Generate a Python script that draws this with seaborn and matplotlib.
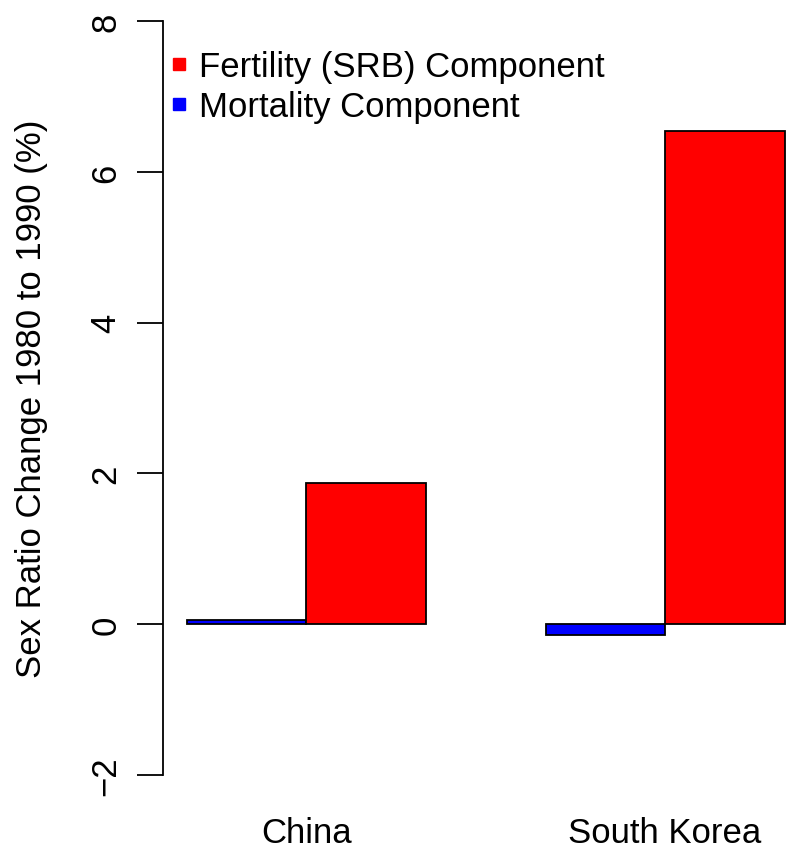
import matplotlib
matplotlib.use("Agg")
import matplotlib.pyplot as plt
import seaborn as sns
import pandas as pd
from matplotlib.lines import Line2D

countries = ["China", "South Korea"]
components = ["Mortality Component", "Fertility (SRB) Component"]
mortality = [0.06, -0.15]
fertility = [1.87, 6.54]
colors = {"Mortality Component": "#0000FF", "Fertility (SRB) Component": "#FF0000"}
yticks = [-2, 0, 2, 4, 6, 8]
ylabel = "Sex Ratio Change 1980 to 1990 (%)"

df = pd.DataFrame({
    "country": countries * 2,
    "component": [components[0]] * 2 + [components[1]] * 2,
    "value": mortality + fertility,
})

sns.set_style("white")
plt.rcParams["font.family"] = ["Liberation Sans", "DejaVu Sans"]
plt.rcParams["text.color"] = "black"
plt.rcParams["axes.labelcolor"] = "black"
plt.rcParams["xtick.color"] = "black"
plt.rcParams["ytick.color"] = "black"

FS = 25

fig = plt.figure(figsize=(7.9, 8.54), dpi=100)
ax = fig.add_axes([163 / 790, 48 / 854, (808.5 - 163) / 790, 814 / 854])

sns.barplot(data=df, x="country", y="value", hue="component", hue_order=components,
            order=countries, palette=colors, width=2 / 3, gap=0, dodge=True,
            edgecolor="black", linewidth=1.3, saturation=1, legend=False, ax=ax, errorbar=None)

ax.set_xlim(-0.4, 1.4)
ax.set_ylim(-2.4, 8.4)
ax.set_yticks(yticks)
ax.set_yticklabels([str(t).replace("-", "\u2212") for t in yticks], rotation=90, va="center", fontsize=FS)
for s in ["top", "right", "bottom"]:
    ax.spines[s].set_visible(False)
ax.spines["left"].set_bounds(-2, 8)
ax.spines["left"].set_linewidth(1.3)
ax.spines["left"].set_color("black")
ax.tick_params(axis="y", left=True, length=19, width=1.3, color="black", pad=10)
ax.tick_params(axis="x", bottom=False, labelsize=FS, pad=4.5)
ax.set_xlabel("")
ax.set_ylabel(ylabel, fontsize=FS, labelpad=30)
ax.patch.set_alpha(0)

handles = [Line2D([], [], marker="s", linestyle="none", color=colors[c], markersize=9)
           for c in [components[1], components[0]]]
ax.legend(handles, [components[1], components[0]], loc="upper left",
          bbox_to_anchor=(0.0, 1 - 52 / 814),
          frameon=False, fontsize=FS, handlelength=0.5, handletextpad=0.35, labelspacing=0.2,
          borderaxespad=0.0, borderpad=0.2)

fig.savefig("out.png", dpi=100)
